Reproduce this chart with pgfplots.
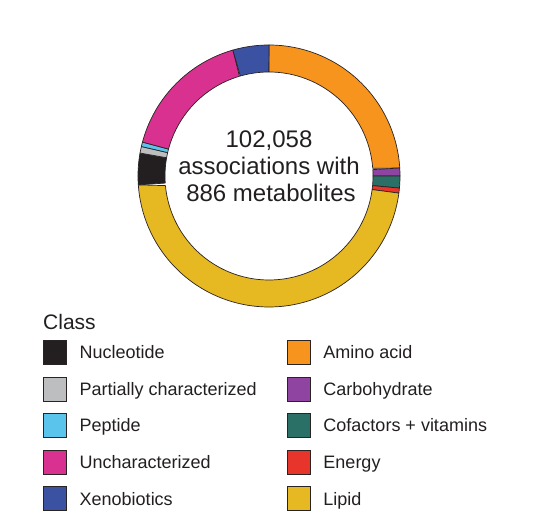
\documentclass[border=0pt]{standalone}
\usepackage{pgfplots}
\pgfplotsset{compat=1.18}
\usepackage{fontspec}
\setmainfont{Liberation Sans}
\definecolor{edge}{HTML}{2A2324}
\definecolor{txt}{HTML}{231F20}
\definecolor{amino}{HTML}{F7941D}
\definecolor{carbo}{HTML}{8E44A0}
\definecolor{cofac}{HTML}{2B7066}
\definecolor{energy}{HTML}{E8352B}
\definecolor{lipid}{HTML}{E6B822}
\definecolor{nucleo}{HTML}{231F20}
\definecolor{partial}{HTML}{BCBEC0}
\definecolor{peptide}{HTML}{5BC4EC}
\definecolor{uncha}{HTML}{D9318F}
\definecolor{xeno}{HTML}{3B52A3}
% one donut segment: colour, start angle, end angle (degrees, clockwise)
\newcommand{\seg}[3]{%
\addplot[fill=#1, draw=edge, line width=0.7pt, line join=round, domain=0:2, samples=241, variable=\t, forget plot]
 ({269+ifthenelse(\t<=1,131,104)*cos(ifthenelse(\t<=1,(#2)+((#3)-(#2))*\t,(#3)+((#2)-(#3))*(\t-1)))},
  {351+ifthenelse(\t<=1,131,104)*sin(ifthenelse(\t<=1,(#2)+((#3)-(#2))*\t,(#3)+((#2)-(#3))*(\t-1)))}) -- cycle;
}
\begin{document}
\begin{tikzpicture}
\begin{axis}[
  scale only axis, width=560pt, height=527pt,
  xmin=0, xmax=560, ymin=0, ymax=527,
  hide axis, clip=false,
  legend columns=2,
  legend cell align=left,
  legend image code/.code={\draw[#1, draw=edge, line width=0.7pt] (0pt,-12pt) rectangle (23pt,12pt);},
  legend style={draw=none, fill=none, inner sep=0pt, outer sep=0pt,
    at={(0.0768,0.3548)}, anchor=north west,
    row sep=11.85pt, column sep=0pt,
    font=\fontsize{18}{20}\selectfont, text=txt,
    nodes={inner sep=0pt, text height=13pt, text depth=0pt},
    /tikz/every odd column/.append style={column sep=13pt},
    /tikz/every even column/.append style={column sep=30pt}},
]
% angles in degrees: 90 = 12 o'clock, going clockwise
\seg{amino}{90}{3.5}        % Amino acid ~24.0%
\seg{carbo}{3.5}{0}         % Carbohydrate ~1.0%
\seg{cofac}{0}{-5.3}        % Cofactors + vitamins ~1.5%
\seg{energy}{-5.3}{-7.5}    % Energy ~0.6%
\seg{lipid}{-7.5}{-176.1}   % Lipid ~46.8%
\seg{nucleo}{-176.1}{-190.1}% Nucleotide ~3.9%
\seg{partial}{-190.1}{-193} % Partially characterized ~0.8%
\seg{peptide}{-193}{-195}   % Peptide ~0.6%
\seg{uncha}{-195}{-254}     % Uncharacterized ~16.4%
\seg{xeno}{-254}{-270}      % Xenobiotics ~4.4%

\addlegendimage{fill=nucleo}\addlegendentry{Nucleotide}
\addlegendimage{fill=amino}\addlegendentry{Amino acid}
\addlegendimage{fill=partial}\addlegendentry{Partially characterized}
\addlegendimage{fill=carbo}\addlegendentry{Carbohydrate}
\addlegendimage{fill=peptide}\addlegendentry{Peptide}
\addlegendimage{fill=cofac}\addlegendentry{Cofactors + vitamins}
\addlegendimage{fill=uncha}\addlegendentry{Uncharacterized}
\addlegendimage{fill=energy}\addlegendentry{Energy}
\addlegendimage{fill=xeno}\addlegendentry{Xenobiotics}
\addlegendimage{fill=lipid}\addlegendentry{Lipid}

\node[anchor=base, font=\fontsize{24}{28}\selectfont, text=txt] at (axis cs:269,379) {102,058};
\node[anchor=base, font=\fontsize{24}{28}\selectfont, text=txt] at (axis cs:269,352) {associations with};
\node[anchor=base, font=\fontsize{24}{28}\selectfont, text=txt] at (axis cs:271,325.3) {886 metabolites};
\node[anchor=base west, inner sep=0pt, font=\fontsize{21}{24}\selectfont, text=txt] at (axis cs:43,197) {Class};
\end{axis}
\pgfresetboundingbox
\useasboundingbox (current axis.south west) rectangle (current axis.north east);
\end{tikzpicture}
\end{document}
